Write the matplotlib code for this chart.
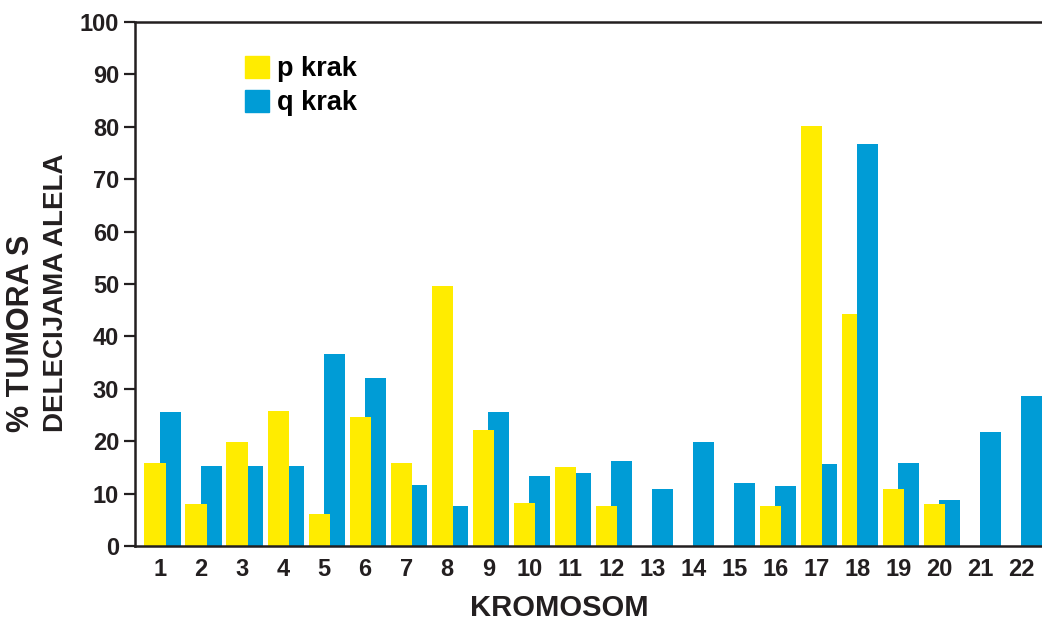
"""
Gubitak heterozigotnosti po kromosomima (p i q krak)
"""
import matplotlib
matplotlib.use('Agg')
import matplotlib.pyplot as plt
import matplotlib.patches as mpatches
import numpy as np

plt.rcParams['font.family'] = ['Liberation Sans', 'DejaVu Sans']
plt.rcParams['font.weight'] = 'bold'

# data
chromosomes = list(range(1, 23))
p_arm = [15.8, 8.1, 19.9, 25.7, 6.2, 24.6, 15.8, 49.6, 22.1, 8.3, 15.0,
         7.6, 0, 0, 0, 7.6, 80.2, 44.2, 10.9, 8.1, 0, 0]
q_arm = [25.6, 15.2, 15.2, 15.2, 36.6, 32.0, 11.6, 7.6, 25.6, 13.4, 14.0,
         16.3, 10.9, 19.8, 12.1, 11.5, 15.7, 76.8, 15.9, 8.8, 21.7, 28.6]
blue_over_yellow = [18]

YELLOW = '#FFEC00'
BLUE = '#009CD6'
DARK = '#231F20'

x = np.array(chromosomes)
width = 0.52

fig = plt.figure(figsize=(10.42, 6.23), dpi=100)
ax = fig.add_axes([135 / 1042, 1 - 546 / 623, 1 - 135 / 1042, (546 - 22) / 623])

q_bars = ax.bar(x + 0.25, q_arm, width, color=BLUE, linewidth=0, zorder=2)
p_bars = ax.bar(x - 0.12, p_arm, width, color=YELLOW, linewidth=0, zorder=3)
for c in blue_over_yellow:
    q_bars[c - 1].set_zorder(4)

ax.set_xlim(0.39, 22.5)
ax.set_ylim(0, 100)
ax.set_yticks(np.arange(0, 101, 10))
ax.set_xticks(x)
ax.set_xticklabels([str(c) for c in chromosomes])

for side in ['left', 'bottom', 'top']:
    ax.spines[side].set_linewidth(1.8)
    ax.spines[side].set_color(DARK)
    ax.spines[side].set_zorder(5)
ax.spines['right'].set_visible(False)

ax.tick_params(axis='y', length=8, width=1.6, color=DARK, pad=3.5,
               labelsize=17, labelcolor=DARK)
ax.tick_params(axis='x', length=0, pad=9, labelsize=17, labelcolor=DARK)

# axis titles (left-aligned lines of a rotated label)
fig.text(21 / 1042, 1 - 432 / 623, '% TUMORA S', rotation=90,
         ha='center', va='bottom', fontsize=22, fontweight='bold', color=DARK)
fig.text(56 / 1042, 1 - 432 / 623, 'DELECIJAMA ALELA', rotation=90,
         ha='center', va='bottom', fontsize=20, fontweight='bold', color=DARK)
fig.text(559 / 1042, 1 - 608 / 623, 'KROMOSOM', ha='center', va='center',
         fontsize=21, fontweight='bold', color=DARK)

# legend
handles = [mpatches.Patch(color=YELLOW, label='p krak'),
           mpatches.Patch(color=BLUE, label='q krak')]
fig.legend(handles=handles, loc='upper left',
           bbox_to_anchor=(245 / 1042, 1 - 56 / 623), frameon=False,
           handlelength=0.88, handleheight=0.88,
           handletextpad=0.3, labelspacing=0.28, borderpad=0,
           borderaxespad=0, prop={'weight': 'bold', 'size': 19.5})

fig.savefig('out.png', dpi=100)
plt.close(fig)
